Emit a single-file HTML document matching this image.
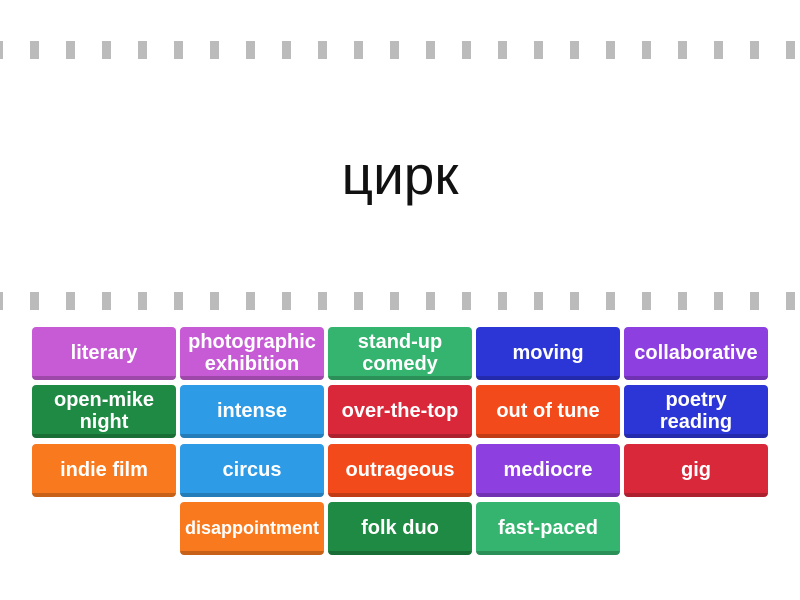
<!DOCTYPE html>
<html><head><style>
body{margin:0;width:800px;height:600px;background:#fff;position:relative;overflow:hidden;font-family:"Liberation Sans",sans-serif}
.dash{position:absolute;width:9px;height:18px;background:#bbb}
.t{position:absolute;width:144px;height:53px;border-radius:4px;color:#fff;font-weight:bold;font-size:20px;line-height:22px;display:flex;align-items:center;justify-content:center;text-align:center;box-sizing:border-box;border-bottom:4px solid rgba(0,0,0,.2);padding-top:2px}
.w{position:absolute;top:143px;left:0;width:800px;text-align:center;font-size:55px;color:#111}
</style></head><body>
<div id="d"></div>
<div class="w">цирк</div>
<div class="t" style="left:32px;top:327px;background:#c65bd5">literary</div>
<div class="t" style="left:180px;top:327px;background:#c65bd5">photographic<br>exhibition</div>
<div class="t" style="left:328px;top:327px;background:#35b46f">stand-up<br>comedy</div>
<div class="t" style="left:476px;top:327px;background:#2c35d6">moving</div>
<div class="t" style="left:624px;top:327px;background:#8d3fe0">collaborative</div>
<div class="t" style="left:32px;top:385px;background:#1f8a43">open-mike<br>night</div>
<div class="t" style="left:180px;top:385px;background:#2e9be6">intense</div>
<div class="t" style="left:328px;top:385px;background:#d9283a">over-the-top</div>
<div class="t" style="left:476px;top:385px;background:#f24a1a">out of tune</div>
<div class="t" style="left:624px;top:385px;background:#2c35d6">poetry<br>reading</div>
<div class="t" style="left:32px;top:444px;background:#f97a1e">indie film</div>
<div class="t" style="left:180px;top:444px;background:#2e9be6">circus</div>
<div class="t" style="left:328px;top:444px;background:#f24a1a">outrageous</div>
<div class="t" style="left:476px;top:444px;background:#8d3fe0">mediocre</div>
<div class="t" style="left:624px;top:444px;background:#d9283a">gig</div>
<div class="t" style="left:180px;top:502px;background:#f97a1e;font-size:18px">disappointment</div>
<div class="t" style="left:328px;top:502px;background:#1f8a43">folk duo</div>
<div class="t" style="left:476px;top:502px;background:#35b46f">fast-paced</div>
<script>
var d=document.getElementById('d'),h='';
for(var x=-6;x<800;x+=36){h+='<div class="dash" style="left:'+x+'px;top:41px"></div><div class="dash" style="left:'+x+'px;top:292px"></div>';}
d.innerHTML=h;
</script>
</body></html>
